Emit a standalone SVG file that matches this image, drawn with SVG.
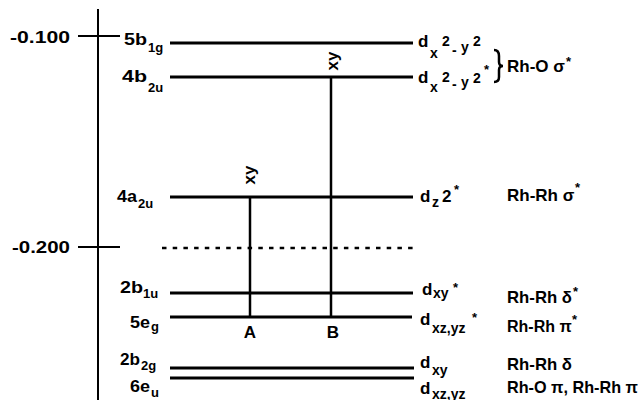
<svg xmlns="http://www.w3.org/2000/svg" width="642" height="400" viewBox="0 0 642 400">
<style>
text{font-family:"Liberation Sans",Arial,sans-serif;font-weight:bold;font-size:17px;fill:#000}
.s{font-size:13px}
.m{font-size:14px}
.lv{stroke:#000;stroke-width:3;fill:none}
.ax{stroke:#000;stroke-width:2;fill:none}
.tr{stroke:#000;stroke-width:2.5;fill:none}
</style>
<rect width="642" height="400" fill="#fff"/>
<g id="axis">
<line class="ax" x1="98" y1="9" x2="98" y2="400"/>
<line class="ax" x1="78" y1="36" x2="120" y2="36"/>
<line class="ax" x1="78" y1="247" x2="120" y2="247"/>
<text x="10" y="43" textLength="60" lengthAdjust="spacingAndGlyphs">-0.100</text>
<text x="12" y="253" textLength="58" lengthAdjust="spacingAndGlyphs">-0.200</text>
<line x1="162" y1="248" x2="416" y2="248" stroke="#000" stroke-width="2.5" stroke-dasharray="4.5 6.2"/>
</g>
<g id="level-5b1g">
<line class="lv" x1="170" y1="43" x2="413" y2="43"/>
<text x="124" y="45" textLength="23" lengthAdjust="spacingAndGlyphs">5b</text><text class="s" x="148" y="52">1g</text>
<text x="418" y="47">d</text><text class="m" x="430" y="58">x</text><text class="m" x="442" y="46">2</text><text class="m" x="452" y="55">-</text><text class="m" x="461" y="52">y</text><text class="m" x="473" y="46">2</text>
</g>
<g id="level-4b2u">
<line class="lv" x1="170" y1="77" x2="413" y2="77"/>
<text x="122" y="82" textLength="25" lengthAdjust="spacingAndGlyphs">4b</text><text class="s" x="148" y="92">2u</text>
<text x="418" y="83">d</text><text class="m" x="430" y="92">x</text><text class="m" x="442" y="82">2</text><text class="m" x="452" y="89">-</text><text class="m" x="461" y="87">y</text><text class="m" x="473" y="83">2</text><text class="s" x="484" y="74">*</text>
<path d="M494,50 Q499,50 499,56 L499,62 Q499,66 503,66 Q499,66 499,70 L499,77 Q499,82 494,82" stroke="#000" stroke-width="2.5" fill="none"/>
<text x="507" y="72">Rh-O σ</text><text class="s" x="566" y="66">*</text>
</g>
<g id="level-4a2u">
<line class="lv" x1="170" y1="197" x2="413" y2="197"/>
<text x="117" y="202" textLength="20" lengthAdjust="spacingAndGlyphs">4a</text><text class="s" x="138" y="208">2u</text>
<text x="420" y="202">d</text><text class="m" x="432" y="207">z</text><text x="442" y="202">2</text><text class="s" x="454" y="194">*</text>
<text x="507" y="201">Rh-Rh σ</text><text class="s" x="575" y="192">*</text>
</g>
<g id="level-2b1u">
<line class="lv" x1="170" y1="293" x2="413" y2="293"/>
<text x="120" y="293" textLength="23" lengthAdjust="spacingAndGlyphs">2b</text><text class="s" x="143" y="298">1u</text>
<text x="422" y="295">d</text><text class="m" x="433" y="298">xy</text><text class="s" x="453" y="292">*</text>
<text x="507" y="303" textLength="65" lengthAdjust="spacingAndGlyphs">Rh-Rh δ</text><text class="s" x="573" y="296">*</text>
</g>
<g id="level-5eg">
<line class="lv" x1="170" y1="317" x2="412" y2="317"/>
<text x="130" y="328" textLength="20" lengthAdjust="spacingAndGlyphs">5e</text><text class="s" x="151" y="331">g</text>
<text x="420" y="325">d</text><text class="m" x="432" y="333">xz,yz</text><text class="s" x="472" y="322">*</text>
<text x="507" y="332" style="font-size:16px">Rh-Rh π</text><text class="s" x="572" y="324">*</text>
</g>
<g id="level-2b2g">
<line class="lv" x1="170" y1="368" x2="414" y2="368"/>
<text x="120" y="365" textLength="20" lengthAdjust="spacingAndGlyphs">2b</text><text class="s" x="141" y="370">2g</text>
<text x="420" y="368">d</text><text class="m" x="432" y="375">xy</text>
<text x="507" y="370" textLength="65" lengthAdjust="spacingAndGlyphs">Rh-Rh δ</text>
</g>
<g id="level-6eu">
<line class="lv" x1="170" y1="378" x2="414" y2="378"/>
<text x="130" y="392" textLength="20" lengthAdjust="spacingAndGlyphs">6e</text><text class="s" x="151" y="397">u</text>
<text x="420" y="394">d</text><text class="m" x="432" y="399">xz,yz</text>
<text x="507" y="393" textLength="131" lengthAdjust="spacingAndGlyphs">Rh-O π, Rh-Rh π</text>
</g>
<g id="connectors">
<line class="tr" x1="250" y1="197" x2="250" y2="317"/>
<line class="tr" x1="331" y1="77" x2="331" y2="317"/>
<text transform="translate(255,175) rotate(-90)" text-anchor="middle">xy</text>
<text transform="translate(338,61) rotate(-90)" text-anchor="middle">xy</text>
<text x="250" y="338" text-anchor="middle">A</text>
<text x="333" y="338" text-anchor="middle">B</text>
</g>
</svg>
